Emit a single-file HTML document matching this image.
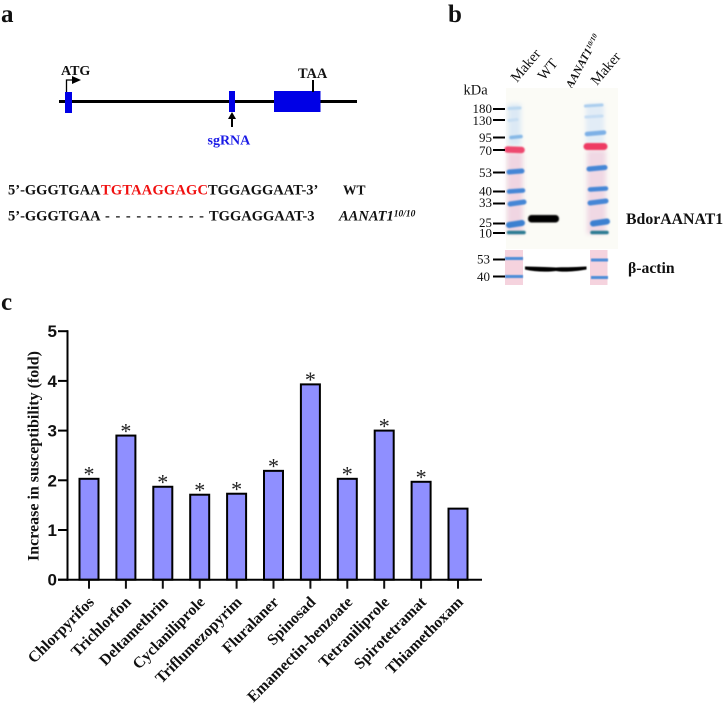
<!DOCTYPE html>
<html>
<head>
<meta charset="utf-8">
<style>
html,body{margin:0;padding:0;background:#fff;width:725px;height:705px;overflow:hidden}
svg{display:block}
text{font-family:"Liberation Serif",serif;fill:#111}
.b{font-weight:bold}
.axn{font-family:"Liberation Sans",sans-serif;font-weight:bold;font-size:17px}
</style>
</head>
<body>
<svg id="fig" width="725" height="705" viewBox="0 0 725 705" xmlns="http://www.w3.org/2000/svg">
<defs>
<filter id="bl1" filterUnits="userSpaceOnUse" x="480" y="80" width="150" height="170"><feGaussianBlur stdDeviation="0.9"/></filter>
<filter id="bl2" filterUnits="userSpaceOnUse" x="480" y="80" width="150" height="170"><feGaussianBlur stdDeviation="2.5"/></filter>
<filter id="bl0" filterUnits="userSpaceOnUse" x="480" y="240" width="150" height="60"><feGaussianBlur stdDeviation="0.6"/></filter>
</defs>

<!-- Panel a -->
<g>
<text class="b" x="1" y="22" font-size="25">a</text>
<rect x="59" y="100" width="298" height="3" fill="#000"/>
<rect x="65" y="92" width="7" height="21" fill="#0000e6"/>
<rect x="229" y="91" width="6" height="21" fill="#0000e6"/>
<rect x="274" y="91" width="46.500" height="21" fill="#0000e6"/>
<path d="M66.500 92V80H73" fill="none" stroke="#000" stroke-width="1.300"/>
<path d="M72 76L81 80L72 84Z" fill="#000"/>
<text class="b" x="61" y="75" font-size="14">ATG</text>
<rect x="312" y="80" width="2" height="12" fill="#000"/>
<text class="b" x="298" y="78" font-size="14.400">TAA</text>
<rect x="231" y="118" width="2" height="9" fill="#000"/>
<path d="M228 119L232 112L236 119Z" fill="#000"/>
<text class="b" x="207.500" y="144.500" font-size="14" style="fill:#1a1ae6">sgRNA</text>
<text class="b" x="8" y="194.500" font-size="14.500">5’-GGGTGAA</text>
<text class="b" x="101" y="194.500" font-size="14.500" textLength="107" style="fill:#f01010">TGTAAGGAGC</text>
<text class="b" x="208" y="194.500" font-size="14.500">TGGAGGAAT-3’</text>
<text class="b" x="343" y="194.500" font-size="13.500">WT</text>
<text class="b" x="8" y="220.500" font-size="14.500">5’-GGGTGAA</text>
<text class="b" x="105" y="220.500" font-size="14.500" textLength="99">- - - - - - - - - -</text>
<text class="b" x="209" y="220.500" font-size="14.500">TGGAGGAAT-3</text>
<text x="339" y="220.500" font-size="14.500" font-style="italic" font-weight="bold">AANAT1<tspan font-size="9.500" dy="-4">10/10</tspan></text>
</g>

<!-- Panel b -->
<g>
<text class="b" x="448" y="22" font-size="25">b</text>
<text transform="translate(517,83) rotate(-50)" font-size="14.500">Maker</text>
<text transform="translate(544,81) rotate(-50)" font-size="14.500">WT</text>
<text transform="translate(572,89) rotate(-62)" font-size="11.500" font-weight="bold" font-style="italic">AANAT1<tspan font-size="7" dy="-3">10/10</tspan></text>
<text transform="translate(597,86) rotate(-50)" font-size="14.500">Maker</text>
<text x="463.500" y="94.500" font-size="14.500">kDa</text>

<rect x="506" y="88" width="112" height="161" fill="#fbfbf6"/>
<rect x="505" y="250" width="103" height="35" fill="#fff"/>

<g filter="url(#bl2)">
<rect x="508" y="104" width="13" height="42" fill="#dce9f5"/>
<rect x="507" y="152" width="16" height="82" fill="#f0d5e2"/>
<rect x="586" y="104" width="18" height="40" fill="#e2ecf6"/>
<rect x="587" y="150" width="19" height="84" fill="#f0d8e4"/>
</g>
<g filter="url(#bl1)" fill="none" stroke-linecap="round">
<path d="M509 108.500L520 108" stroke="#bcd8f0" stroke-width="3"/>
<path d="M509 120.500L517 119.500" stroke="#c8def2" stroke-width="3"/>
<path d="M511 137.500L521 136.500" stroke="#86b8e6" stroke-width="3.500"/>
<path d="M507.500 149.500L521.500 150" stroke="#ee4a70" stroke-width="6.500"/>
<path d="M509 172L522 171" stroke="#4486d6" stroke-width="5"/>
<path d="M509 191.500L523 190.500" stroke="#4486d6" stroke-width="4.500"/>
<path d="M510 204L524 202" stroke="#4486d6" stroke-width="5"/>
<path d="M509 225L522 223" stroke="#3a80d0" stroke-width="6"/>
<path d="M508.500 232.500L524 232.500" stroke="#2a7a92" stroke-width="3.500"/>
</g>
<g filter="url(#bl1)" fill="none" stroke-linecap="round">
<path d="M585.500 106L602 105" stroke="#aacdee" stroke-width="3"/>
<path d="M586 117L602 116" stroke="#c6ddf3" stroke-width="3"/>
<path d="M587 134L604 132.500" stroke="#7db0e6" stroke-width="4.500"/>
<path d="M587 146.500L604 146.500" stroke="#ee3a64" stroke-width="7"/>
<path d="M589 169L605 167.500" stroke="#4486d6" stroke-width="5"/>
<path d="M590 189.500L606 188.500" stroke="#4486d6" stroke-width="4.500"/>
<path d="M590 203L606 201" stroke="#4486d6" stroke-width="5"/>
<path d="M593 223.500L607 221.500" stroke="#3a80d0" stroke-width="6"/>
<path d="M592 232.500L607 232.500" stroke="#2a7a92" stroke-width="3.500"/>
</g>
<rect x="528" y="215" width="31" height="7.500" rx="3.500" fill="#000" filter="url(#bl1)"/>

<rect x="505" y="250" width="18" height="35" fill="#f5d3de"/>
<rect x="590" y="250" width="17.500" height="35" fill="#f5d3de"/>
<g filter="url(#bl0)">
<rect x="505" y="257" width="18" height="3" fill="#4f8ed8"/>
<rect x="505" y="275" width="18" height="3" fill="#4f8ed8"/>
<rect x="591" y="258.500" width="17" height="3" fill="#4f8ed8"/>
<rect x="591" y="276" width="17" height="3" fill="#4f8ed8"/>
</g>
<path d="M525 266.500C540 267 550 267 556 267.500C562 267 572 267.500 586.500 266.500V269.500C572 272 562 272 556 271C548 272 535 272 525 269.500Z" fill="#000" filter="url(#bl0)"/>

<g>
<rect x="493" y="108" width="12" height="2" fill="#000"/>
<rect x="493" y="119" width="12" height="2" fill="#000"/>
<rect x="493" y="136.500" width="12" height="2" fill="#000"/>
<rect x="493" y="149" width="12" height="2" fill="#000"/>
<rect x="493" y="171.500" width="12" height="2" fill="#000"/>
<rect x="493" y="190.500" width="12" height="2" fill="#000"/>
<rect x="493" y="202.500" width="12" height="2" fill="#000"/>
<rect x="493" y="222.500" width="12" height="2" fill="#000"/>
<rect x="493" y="232" width="12" height="2" fill="#000"/>
<rect x="493" y="258.500" width="12" height="2" fill="#000"/>
<rect x="493" y="275.500" width="12" height="2" fill="#000"/>
<g font-size="13" text-anchor="end">
<text x="492" y="113">180</text>
<text x="492" y="125">130</text>
<text x="492" y="142">95</text>
<text x="492" y="155">70</text>
<text x="492" y="177">53</text>
<text x="492" y="195.500">40</text>
<text x="492" y="207">33</text>
<text x="492" y="227">25</text>
<text x="492" y="237.500">10</text>
<text x="490" y="263.500">53</text>
<text x="490" y="281">40</text>
</g>
</g>
<text class="b" x="626" y="224" font-size="15.800">BdorAANAT1</text>
<text class="b" x="628" y="273" font-size="15.700">β-actin</text>
</g>

<!-- Panel c -->
<g>
<text class="b" x="1" y="310" font-size="25">c</text>
<text class="b" transform="translate(38.500,561) rotate(-90)" font-size="16">Increase in susceptibility (fold)</text>
<g id="chart"></g>
</g>
</svg>

<script>
var categories = ["Chlorpyrifos","Trichlorfon","Deltamethrin","Cyclaniliprole","Triflumezopyrim","Fluralaner","Spinosad","Emamectin-benzoate","Tetraniliprole","Spirotetramat","Thiamethoxam"];
var seriesValues = [2.03,2.90,1.87,1.71,1.73,2.19,3.93,2.03,3.00,1.97,1.43];
var significant = [true,true,true,true,true,true,true,true,true,true,false];
var yTickLabels = [0,1,2,3,4,5];

var NS = "http://www.w3.org/2000/svg";
var chart = document.getElementById("chart");
function yScale(v){ return 579.7 - v * 49.7; }
function xScale(i){ return 89 + i * 36.9; }
function make(tag, attrs, parent){
  var el = document.createElementNS(NS, tag);
  for (var k in attrs) el.setAttribute(k, attrs[k]);
  parent.appendChild(el);
  return el;
}

seriesValues.forEach(function(v, i){
  var bar = make("rect", {x:xScale(i)-9.5, y:yScale(v), width:19, height:yScale(0)-yScale(v), fill:"#8f8fff", stroke:"#000", "stroke-width":2}, chart);
  
  
  var tick = make("line", {x1:xScale(i), x2:xScale(i), y1:yScale(0), y2:yScale(0)+9, stroke:"#111", "stroke-width":2}, chart);
  
  
  var lab = make("text", {transform:"translate("+(xScale(i)+6)+",603) rotate(-45)", "text-anchor":"end", "font-size":"15.700", "font-weight":"bold"}, chart);
  lab.textContent = categories[i];
  
  
  if (significant[i]) {
    var star = make("text", {x:xScale(i), y:yScale(v)+2.8, "text-anchor":"middle", "font-size":"22", style:"font-family:'Liberation Serif',serif;fill:#222"}, chart);
    star.textContent = "*";
    
    
  }
});

yTickLabels.forEach(function(t){
  var tick = make("line", {x1:58, x2:68, y1:yScale(t), y2:yScale(t), stroke:"#000", "stroke-width":2}, chart);
  
  
  var lab = make("text", {x:57, y:yScale(t)+6, "text-anchor":"end", "class":"axn"}, chart);
  lab.textContent = t;
  
  
});

var yAxis = make("line", {x1:67.5, x2:67.5, y1:yScale(5)-1, y2:yScale(0)+1, stroke:"#000", "stroke-width":2}, chart);


var xAxis = make("line", {x1:58, x2:482, y1:yScale(0), y2:yScale(0), stroke:"#000", "stroke-width":2}, chart);


</script>
</body>
</html>
